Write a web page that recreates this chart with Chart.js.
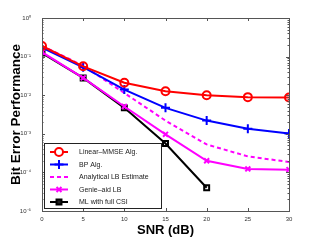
<!DOCTYPE html>
<html>
<head>
<meta charset="utf-8">
<script src="https://cdn.jsdelivr.net/npm/chart.js@4/dist/chart.umd.min.js"></script>
<style>
  html, body { margin: 0; padding: 0; background: #fff; }
  #wrap { width: 319px; height: 240px; position: relative; }
</style>
</head>
<body>
<div id="wrap"><canvas id="myChart" width="319" height="240"></canvas></div>
<script>
// SNR points (dB)
const snr = [0, 5, 10, 15, 20, 25, 30];

// bit error rates
const linearMmse = [0.188, 0.056, 0.021, 0.0126, 0.0100, 0.0089, 0.0087];
const bpAlg = [0.17, 0.053, 0.014, 0.0047, 0.0022, 0.00136, 0.00102];
const analyticalLb = [0.19, 0.058, 0.0114, 0.0022, 0.00053, 0.00026, 0.000186];
const genieLb = [0.13, 0.028, 0.0051, 0.00097, 0.0002, 0.000123, 0.000118];
const mlFullCsi = [0.124, 0.028, 0.0047, 0.00056, 0.00004];

const seriesNames = ['Linear\u2013MMSE Alg.', 'BP Alg.', 'Analytical LB Estimate', 'Genie\u2013aid LB', 'ML with full CSI'];
const yTickLabels = { 0: '10\u2070', '-1': '10\u207B\u00B9', '-2': '10\u207B\u00B2', '-3': '10\u207B\u00B3', '-4': '10\u207B\u2074', '-5': '10\u207B\u2075' };

function pts(arr) {
    return arr.map(function(v, i) { return { x: snr[i], y: v }; });
}

// inside tick marks, box and legend (matlab style)
const frame = {
    id: 'frame',
    afterDatasetsDraw: function(chart) {
        const ctx = chart.ctx;
        const a = chart.chartArea;
        const xs = chart.scales.x, ys = chart.scales.y;
        ctx.save();
        ctx.strokeStyle = '#555';
        ctx.lineWidth = 1;
        ctx.beginPath();
        for (let v = 0; v <= 30; v += 5) {
            let px = Math.round(xs.getPixelForValue(v)) + 0.5;
            ctx.moveTo(px, a.bottom); ctx.lineTo(px, a.bottom - 3);
            ctx.moveTo(px, a.top); ctx.lineTo(px, a.top + 3);
        }
        for (let e = -5; e <= 0; e++) {
            let py = Math.round(ys.getPixelForValue(Math.pow(10, e))) + 0.5;
            ctx.moveTo(a.left, py); ctx.lineTo(a.left + 3, py);
            ctx.moveTo(a.right, py); ctx.lineTo(a.right - 3, py);
            if (e < 0) {
                for (let m = 2; m <= 9; m++) {
                    let pm = Math.round(ys.getPixelForValue(m * Math.pow(10, e))) + 0.5;
                    ctx.moveTo(a.left, pm); ctx.lineTo(a.left + 1.5, pm);
                    ctx.moveTo(a.right, pm); ctx.lineTo(a.right - 1.5, pm);
                }
            }
        }
        ctx.stroke();
        ctx.strokeRect(Math.round(a.left) + 0.5, Math.round(a.top) + 0.5, Math.round(a.right - a.left), Math.round(a.bottom - a.top));

        // legend
        const lx = 44, ly = 143, lw = 117, lh = 65;
        ctx.fillStyle = '#fff';
        ctx.fillRect(lx, ly, lw, lh);
        ctx.strokeStyle = '#222';
        ctx.strokeRect(lx + 0.5, ly + 0.5, lw, lh);
        ctx.font = '7px "Liberation Sans", Arial, sans-serif';
        ctx.textBaseline = 'middle';
        chart.data.datasets.forEach(function(ds, i) {
            const y = ly + 9 + i * 12.5;
            ctx.save();
            ctx.strokeStyle = ds.borderColor;
            ctx.lineWidth = ds.borderWidth;
            ctx.setLineDash(ds.borderDash || []);
            ctx.beginPath();
            ctx.moveTo(50, y); ctx.lineTo(68, y);
            ctx.stroke();
            ctx.restore();
            if (ds.pointStyle && ds.pointRadius > 0) {
                ctx.save();
                ctx.strokeStyle = ds.pointBorderColor;
                ctx.lineWidth = ds.pointBorderWidth;
                Chart.helpers.drawPoint(ctx, { pointStyle: ds.pointStyle, radius: ds.pointRadius, borderWidth: ds.pointBorderWidth }, 59, y);
                ctx.restore();
            }
            ctx.fillStyle = '#222';
            ctx.fillText(seriesNames[i], 79, y + 0.5);
        });
        ctx.restore();
    }
};

function lineSet(label, data, color, style, radius, dash) {
    return {
        label: label,
        data: pts(data),
        borderColor: color,
        backgroundColor: 'transparent',
        borderWidth: 2,
        borderDash: dash || [],
        pointStyle: style,
        pointRadius: radius,
        pointBorderColor: color,
        pointBackgroundColor: 'transparent',
        pointBorderWidth: 2,
        tension: 0
    };
}

const ctx = document.getElementById('myChart').getContext('2d');
const myChart = new Chart(ctx, {
    type: 'line',
    data: {
        datasets: [
            lineSet(seriesNames[0], linearMmse, '#ff0000', 'circle', 4),
            lineSet(seriesNames[1], bpAlg, '#0000ff', 'cross', 4.5),
            lineSet(seriesNames[2], analyticalLb, '#ff00ff', false, 0, [4, 3]),
            lineSet(seriesNames[3], genieLb, '#ff00ff', 'crossRot', 3.5),
            lineSet(seriesNames[4], mlFullCsi, '#000000', 'rect', 3.5)
        ]
    },
    plugins: [frame],
    options: {
        responsive: false,
        animation: false,
        layout: { padding: { left: 0, right: 30, top: 18, bottom: 0 } },
        plugins: {
            legend: { display: false },
            tooltip: { enabled: false }
        },
        scales: {
            x: {
                type: 'linear',
                min: 0,
                max: 30,
                ticks: {
                    stepSize: 5,
                    font: { size: 6, family: 'Liberation Sans, Arial, sans-serif' },
                    color: '#333',
                    padding: -3,
                    maxRotation: 0
                },
                grid: { display: false },
                border: { display: false },
                title: {
                    display: true,
                    text: 'SNR (dB)',
                    font: { size: 13, weight: 'bold', family: 'Liberation Sans, Arial, sans-serif' },
                    color: '#000',
                    padding: { top: 0, bottom: 2 }
                },
                afterFit: function(s) { s.height = 29; }
            },
            y: {
                type: 'logarithmic',
                min: 1e-5,
                max: 1,
                ticks: {
                    font: { size: 6, family: 'Liberation Sans, Arial, sans-serif' },
                    color: '#333',
                    padding: 3,
                    autoSkip: false,
                    callback: function(v) {
                        const e = Math.round(Math.log10(v));
                        if (Math.abs(Math.log10(v) - e) > 1e-6) return '';
                        return yTickLabels[e];
                    }
                },
                grid: { display: false },
                border: { display: false },
                title: {
                    display: true,
                    text: 'Bit Error Performance',
                    font: { size: 13.5, weight: 'bold', family: 'Liberation Sans, Arial, sans-serif' },
                    color: '#000',
                    padding: { top: 8, bottom: 0 }
                },
                afterFit: function(s) { s.width = 42; }
            }
        }
    }
});
</script>
</body>
</html>
